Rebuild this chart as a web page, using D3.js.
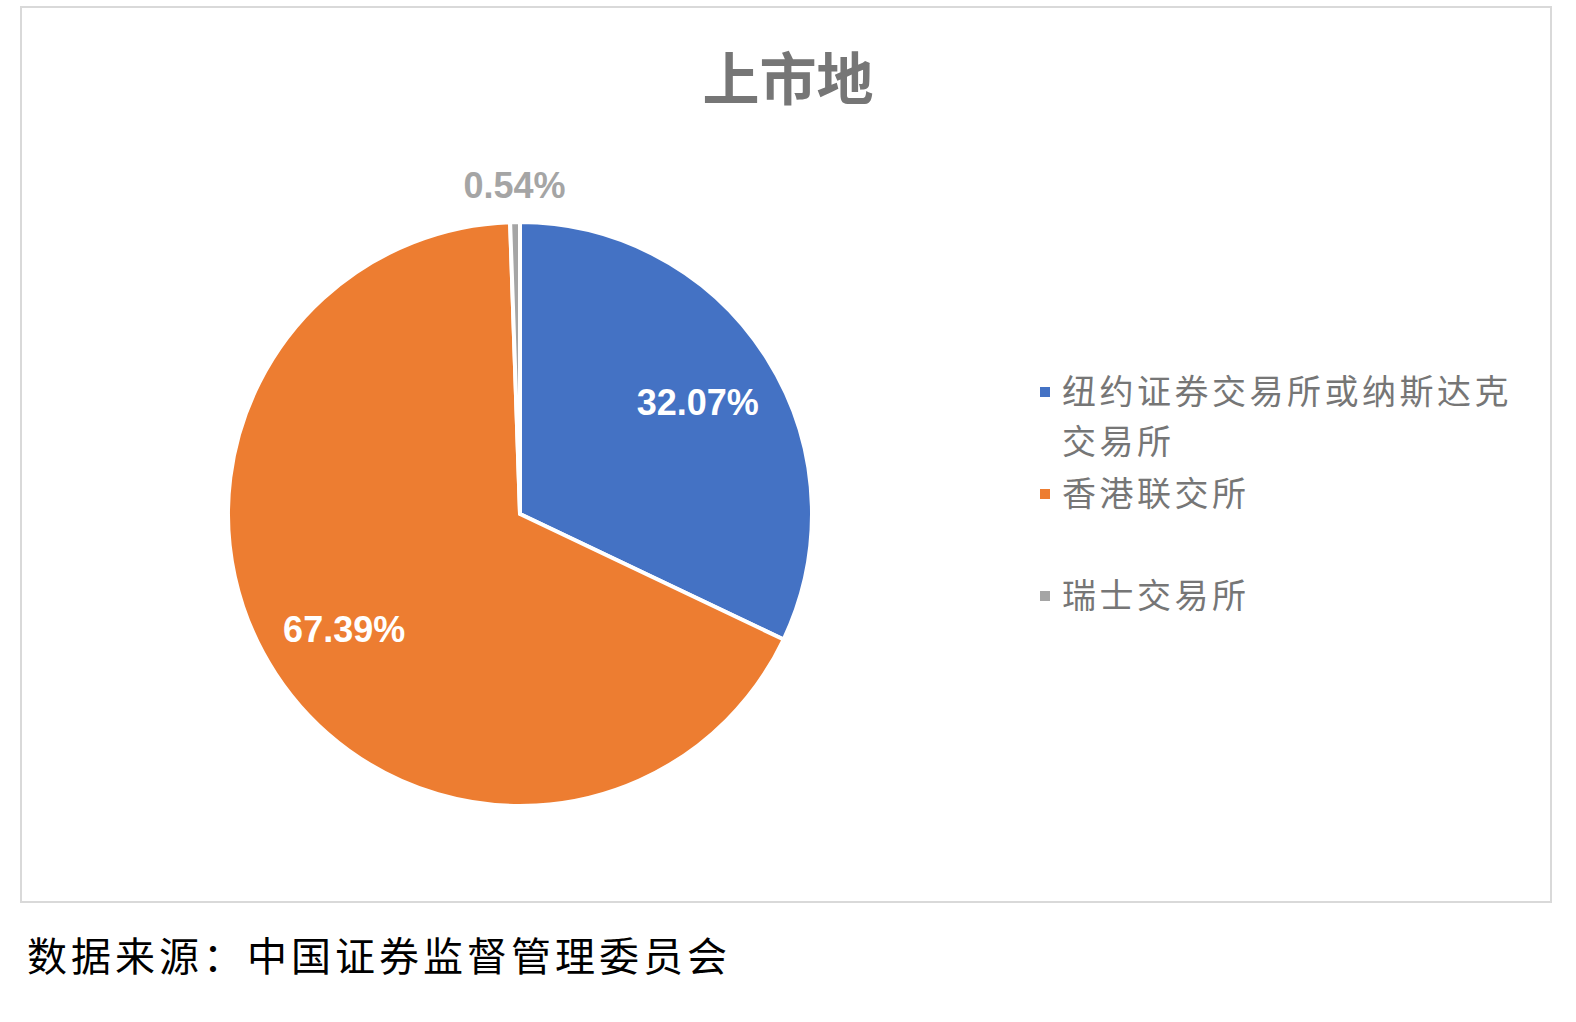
<!DOCTYPE html>
<html>
<head>
<meta charset="utf-8">
<script src="https://cdn.jsdelivr.net/npm/d3@7"></script>
<style>
  html, body { margin: 0; padding: 0; background: #fff; overflow: hidden; }
  svg { display: block; }
  text { font-family: "Liberation Sans", Arial, "Noto Sans CJK SC", sans-serif; }
  .cjk { font-family: "Noto Sans CJK SC", sans-serif; }
</style>
</head>
<body>
<div id="chart"></div>
<script>
// data
const categories = ["纽约证券交易所或纳斯达克交易所", "香港联交所", "瑞士交易所"];
const values = [32.07, 67.39, 0.54];
const labels = ["32.07%", "67.39%", "0.54%"];
const colors = ["#4472c4", "#ed7d31", "#a5a5a5"];
const legendLines = [["纽约证券交易所或纳斯达克", "交易所"], ["香港联交所"], ["瑞士交易所"]];

const W = 1576, H = 1022;
const cx = 520, cy = 514, r = 292;

const svg = d3.select("#chart")
  .append("svg")
    .attr("width", W)
    .attr("height", H);

// chart border
svg.append("rect")
    .attr("x", 21).attr("y", 7)
    .attr("width", 1530).attr("height", 895)
    .attr("fill", "#fff")
    .attr("stroke", "#d9d9d9")
    .attr("stroke-width", 2);

// title
svg.append("text")
    .attr("class", "cjk")
    .attr("x", 788)
    .attr("y", 100)
    .attr("text-anchor", "middle")
    .style("font-size", "57px")
    .style("font-weight", "bold")
    .style("fill", "#767676")
    .text("上市地");

const pie = d3.pie().sort(null).value(d => d);
const arcs = pie(values);
const arc = d3.arc().innerRadius(0).outerRadius(r);

const g = svg.append("g")
    .attr("transform", `translate(${cx},${cy})`);

g.selectAll("path")
  .data(arcs)
  .enter()
  .append("path")
    .attr("d", arc)
    .attr("fill", (d, i) => colors[i])
    .attr("stroke", "#fff")
    .attr("stroke-width", 4)
    .attr("stroke-linejoin", "round");

// data labels
const labelArc = d3.arc().innerRadius(r * 0.72).outerRadius(r * 0.72);
const outerArc = d3.arc().innerRadius(r + 37).outerRadius(r + 37);
g.selectAll(".lbl")
  .data(arcs)
  .enter()
  .append("text")
    .attr("class", "lbl")
    .attr("transform", (d, i) => {
      const p = (i === 2 ? outerArc : labelArc).centroid(d);
      return `translate(${p[0]},${p[1]})`;
    })
    .attr("text-anchor", "middle")
    .attr("dy", "0.36em")
    .style("font-size", "36px")
    .style("font-weight", "bold")
    .style("fill", (d, i) => i === 2 ? "#a5a5a5" : "#fff")
    .text((d, i) => labels[i]);

// legend
const legendY = [392, 494, 596];
const legend = svg.append("g");
categories.forEach((c, i) => {
  legend.append("rect")
      .attr("x", 1040)
      .attr("y", legendY[i] - 5)
      .attr("width", 10).attr("height", 10)
      .attr("fill", colors[i]);
  legendLines[i].forEach((line, j) => {
    legend.append("text")
        .attr("class", "cjk")
        .attr("x", 1062)
        .attr("y", legendY[i] + j * 50)
        .attr("dy", "0.36em")
        .style("font-size", "34px")
        .style("letter-spacing", "3.5px")
        .style("fill", "#767676")
        .text(line);
  });
});

// footer
svg.append("text")
    .attr("class", "cjk")
    .attr("x", 27)
    .attr("y", 957)
    .attr("dy", "0.36em")
    .style("font-size", "40px")
    .style("letter-spacing", "4px")
    .style("fill", "#000")
    .text("数据来源：中国证券监督管理委员会");
</script>
</body>
</html>
